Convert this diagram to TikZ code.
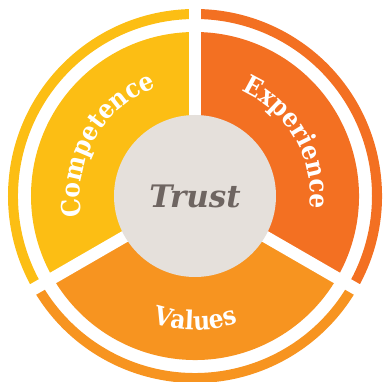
\documentclass[tikz,border=0pt]{standalone}
\usepackage{fontspec}
\usepackage{tikz}
\usetikzlibrary{decorations.text}
\setmainfont{DejaVu Serif}
\newfontfamily\labelfont{DejaVu Serif Condensed}

\definecolor{compcolor}{RGB}{252,190,20}
\definecolor{expcolor}{RGB}{243,112,34}
\definecolor{valcolor}{RGB}{247,148,32}
\definecolor{trustbg}{RGB}{229,224,219}
\definecolor{trusttext}{RGB}{110,101,97}

\tikzset{
  arclabel/.style={decorate, decoration={text along path, text align=center,
      text color=white, text={|\labelfont\bfseries\fontsize{26}{26}\selectfont|#1}}}
}

\begin{document}
\begin{tikzpicture}[x=1pt,y=1pt]

    \def\r{81}   % 中心圆半径
    \def\R{164}  % 扇形半径
    \def\Ri{177} \def\Ro{187} % 外环内外半径
    \useasboundingbox (-195,-186) rectangle (187,196);

    \foreach \s/\e/\c in {90/210/compcolor, -30/90/expcolor, 210/330/valcolor} {
      \fill[\c] (0,0) -- (\s:\R) arc[start angle=\s, end angle=\e, radius=\R] -- cycle;
      \fill[\c] (\s:\Ro) arc[start angle=\s, end angle=\e, radius=\Ro]
        -- (\e:\Ri) arc[start angle=\e, end angle=\s, radius=\Ri] -- cycle;
    }
    \foreach \a in {90,210,330}
      \draw[white, line width=12] (0,0) -- (\a:195);

    \node[circle, fill=trustbg, minimum size=2*\r, inner sep=0pt] (trust) at (0,0)
      {\fontsize{31}{31}\selectfont\bfseries\itshape\color{trusttext}Trust};

    \path[arclabel=Competence] (210:115) arc[start angle=210, end angle=90, radius=115];
    \path[arclabel=Experience] (90:115) arc[start angle=90, end angle=-30, radius=115];
    \path[arclabel=Values] (210:134) arc[start angle=210, end angle=330, radius=134];

  \end{tikzpicture}
\end{document}
